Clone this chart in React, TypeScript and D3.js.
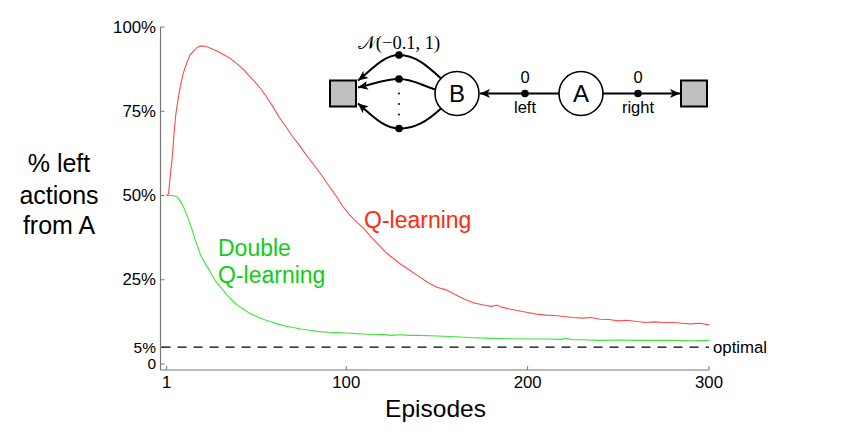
import React from "react";
import * as d3 from "d3";

const W = 849;
const H = 441;

// Q-learning: % left actions from A, by episode
const qEpisodes = [1, 2, 3, 4, 5, 6, 7, 8, 9, 10, 12, 14, 16, 18, 20, 22, 24, 26, 28, 30, 33, 36, 40, 43, 46, 50, 53, 56, 60, 63, 66, 70, 74, 78, 82, 86, 90, 94, 98, 102, 106, 110, 114, 118, 122, 126, 130, 135, 140, 145, 150, 155, 160, 165, 170, 175, 180, 183, 186, 190, 195, 200, 205, 210, 215, 220, 225, 230, 235, 240, 245, 250, 255, 260, 265, 270, 275, 280, 285, 290, 295, 300];
const qValues = [50, 50.5, 56, 61, 68, 74, 77.5, 81, 83.5, 86, 89.3, 91.8, 93, 94, 94.4, 94.3, 94, 93.5, 93, 92.5, 91.6, 90.7, 89, 87.6, 85.8, 83.5, 81.6, 79.3, 76, 73.2, 71, 67.8, 65, 62, 59.2, 56.3, 53.2, 50.2, 46.8, 44.2, 42, 40, 37.5, 35.3, 33, 31.3, 29.6, 27.8, 26, 24.2, 22.8, 22, 20.6, 19.3, 18.2, 17.6, 17.1, 17.5, 16.8, 16.3, 15.8, 15.3, 14.8, 14.5, 14.4, 14.1, 13.8, 13.6, 13.8, 13.3, 13.2, 12.8, 13.0, 12.6, 12.3, 12.5, 12.3, 12.3, 12.1, 11.9, 12.1, 11.6];

// Double Q-learning
const dqEpisodes = [1, 3, 5, 7, 8, 9, 10, 11, 12, 13, 14, 15, 16, 17, 18, 19, 20, 22, 24, 26, 28, 30, 32, 34, 36, 38, 40, 43, 46, 49, 52, 55, 58, 62, 66, 70, 75, 80, 85, 90, 95, 100, 105, 110, 115, 120, 125, 130, 135, 140, 150, 160, 170, 180, 190, 200, 210, 218, 221, 225, 230, 240, 250, 260, 270, 280, 290, 300];
const dqValues = [50, 50, 49.9, 49.5, 48.7, 47.9, 46.8, 45.7, 44.3, 43, 41.5, 39.8, 38, 36.4, 35, 33.3, 32, 30, 28.3, 26.4, 24.5, 23.2, 22, 20.6, 19.5, 18.4, 17.4, 16.4, 15.3, 14.5, 13.8, 13.1, 12.6, 11.9, 11.3, 10.9, 10.4, 10, 9.6, 9.4, 9.3, 9.2, 9.0, 8.9, 8.7, 8.8, 8.5, 8.7, 8.5, 8.5, 8.3, 8.1, 7.8, 7.6, 7.5, 7.4, 7.4, 7.3, 7.6, 7.2, 7.2, 7.0, 7.1, 7.0, 7.0, 7.0, 6.9, 7.0];

const yTickValues = [0, 5, 25, 50, 75, 100];
const yTickLabels = ["0", "5%", "25%", "50%", "75%", "100%"];
const xTickValues = [1, 100, 200, 300];
const xTickLabels = ["1", "100", "200", "300"];
const optimalValue = 5;

const FONT = "'Liberation Sans', Arial, Helvetica, sans-serif";

export default function App() {
  const x = d3.scaleLinear().domain([1, 300]).range([166.7, 709]);
  const y = d3.scaleLinear().domain([0, 100]).range([364, 27]);
  const axisX = 160.5;
  const axisY = 370;

  const line = d3
    .line<[number, number]>()
    .x((d) => x(d[0]))
    .y((d) => y(d[1]));

  const qData = qEpisodes.map((e, i) => [e, qValues[i]] as [number, number]);
  const dqData = dqEpisodes.map((e, i) => [e, dqValues[i]] as [number, number]);

  // diagram geometry
  const cy = 93.5;
  const bX = 457;
  const aX = 581;
  const r = 22;
  const dotX = 399;

  return (
    <svg
      width={W}
      height={H}
      style={{ position: "absolute", left: 0, top: 0, background: "#fff" }}
      fontFamily={FONT}
    >
      <defs>
        <marker id="ah" viewBox="0 0 10 10" refX="10" refY="5" markerWidth="10" markerHeight="10" markerUnits="userSpaceOnUse" orient="auto">
          <path d="M0,0.5 L10,5 L0,9.5 L2.5,5 Z" fill="#000" />
        </marker>
      </defs>

      {/* axes */}
      <line x1={axisX} y1={y(100)} x2={axisX} y2={axisY} stroke="#777" strokeWidth={1.2} />
      <line x1={axisX} y1={axisY} x2={x(300)} y2={axisY} stroke="#777" strokeWidth={1.2} />
      {yTickValues.map((v, i) => (
        <g key={"yt" + v}>
          <line x1={axisX} x2={axisX + 4} y1={y(v)} y2={y(v)} stroke="#777" strokeWidth={1} />
          <text x={156} y={y(v) + (v === 0 ? 4.5 : 5.5)} textAnchor="end" fontSize={v === 0 || v === 5 ? 15.5 : 16.8}>
            {yTickLabels[i]}
          </text>
        </g>
      ))}
      {xTickValues.map((v, i) => (
        <g key={"xt" + v}>
          <line x1={x(v)} x2={x(v)} y1={axisY} y2={axisY - 4} stroke="#777" strokeWidth={1} />
          <text x={x(v)} y={387.5} textAnchor="middle" fontSize={16.8}>
            {xTickLabels[i]}
          </text>
        </g>
      ))}

      {/* optimal dashed */}
      <line
        x1={axisX + 1}
        x2={x(300)}
        y1={y(optimalValue)}
        y2={y(optimalValue)}
        stroke="#000"
        strokeWidth={1.2}
        strokeDasharray="9,7"
      />
      <text x={713} y={y(optimalValue) + 5.5} fontSize={16.8}>
        optimal
      </text>

      {/* series */}
      <path d={line(qData) || ""} fill="none" stroke="#ff4a4a" strokeWidth={1.1} />
      <path d={line(dqData) || ""} fill="none" stroke="#3be63b" strokeWidth={1.1} />

      {/* series labels */}
      <text x={364} y={228} fontSize={23} fill="#ff2a10">
        Q-learning
      </text>
      <text x={218} y={256} fontSize={23} fill="#12cc12">
        Double
      </text>
      <text x={218} y={283} fontSize={23} fill="#12cc12">
        Q-learning
      </text>

      {/* axis titles */}
      <text x={59} y={172} textAnchor="middle" fontSize={25}>% left</text>
      <text x={59} y={204} textAnchor="middle" fontSize={25}>actions</text>
      <text x={59} y={234} textAnchor="middle" fontSize={25}>from A</text>
      <text x={435.5} y={417} textAnchor="middle" fontSize={24.5}>Episodes</text>

      {/* MDP diagram */}
      <g>
        <rect x={330} y={80.5} width={26} height={26} fill="#c0c0c0" stroke="#000" strokeWidth={2} />
        <rect x={681} y={80.5} width={26} height={26} fill="#c0c0c0" stroke="#000" strokeWidth={2} />

        <path
          d={`M${bX - 16},${cy - 15} C${bX - 30},${cy - 28} ${dotX + 16},${cy - 38.5} ${dotX},${cy - 38.5} C${dotX - 16},${cy - 38.5} ${370},${cy - 22} ${358},${cy - 13}`}
          fill="none"
          stroke="#000"
          strokeWidth={2}
          markerEnd="url(#ah)"
        />
        <path
          d={`M${bX - 21.5},${cy - 4} C${bX - 35},${cy - 8} ${dotX + 14},${cy - 14.5} ${dotX},${cy - 14.5} C${dotX - 14},${cy - 14.5} ${372},${cy - 9} ${358},${cy - 6}`}
          fill="none"
          stroke="#000"
          strokeWidth={2}
          markerEnd="url(#ah)"
        />
        <path
          d={`M${bX - 16},${cy + 15} C${bX - 30},${cy + 28} ${dotX + 16},${cy + 35} ${dotX},${cy + 35} C${dotX - 16},${cy + 35} ${370},${cy + 20} ${358},${cy + 10}`}
          fill="none"
          stroke="#000"
          strokeWidth={2}
          markerEnd="url(#ah)"
        />
        <circle cx={dotX} cy={cy - 38.5} r={3.8} fill="#000" />
        <circle cx={dotX} cy={cy - 14.5} r={3.8} fill="#000" />
        <circle cx={dotX} cy={cy + 35} r={3.8} fill="#000" />
        <circle cx={dotX} cy={cy} r={1} fill="#000" />
        <circle cx={dotX} cy={cy + 10.5} r={1} fill="#000" />
        <circle cx={dotX} cy={cy + 21} r={1} fill="#000" />
        <text x={dotX} y={48.5} textAnchor="middle" fontSize={18.5} fontFamily="'Liberation Serif', 'DejaVu Serif', serif">
          𝒩(−0.1, 1)
        </text>

        <line x1={aX - r} y1={cy} x2={bX + r + 1} y2={cy} stroke="#000" strokeWidth={2} markerEnd="url(#ah)" />
        <circle cx={525} cy={cy} r={3.8} fill="#000" />
        <text x={525} y={83} textAnchor="middle" fontSize={16.5}>0</text>
        <text x={525} y={113} textAnchor="middle" fontSize={16.5}>left</text>

        <line x1={aX + r} y1={cy} x2={680} y2={cy} stroke="#000" strokeWidth={2} markerEnd="url(#ah)" />
        <circle cx={638} cy={cy} r={3.8} fill="#000" />
        <text x={638} y={83} textAnchor="middle" fontSize={16.5}>0</text>
        <text x={638} y={113} textAnchor="middle" fontSize={16.5}>right</text>

        <circle cx={bX} cy={cy} r={r} fill="#fff" stroke="#000" strokeWidth={1.6} />
        <text x={bX} y={cy + 8.5} textAnchor="middle" fontSize={24}>B</text>
        <circle cx={aX} cy={cy} r={r} fill="#fff" stroke="#000" strokeWidth={1.6} />
        <text x={aX} y={cy + 8.5} textAnchor="middle" fontSize={24}>A</text>
      </g>
    </svg>
  );
}
